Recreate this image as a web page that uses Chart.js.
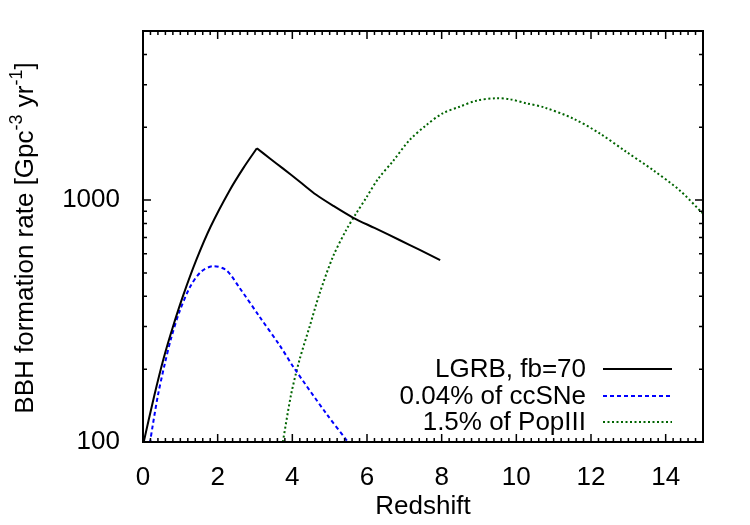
<!DOCTYPE html>
<html>
<head>
<meta charset="utf-8">
<title>BBH formation rate vs redshift</title>
<script src="https://cdn.jsdelivr.net/npm/chart.js@4.4.1/dist/chart.umd.min.js"></script>
<style>
  html, body { margin: 0; padding: 0; background: #fff; }
  #wrap { width: 750px; height: 525px; }
</style>
</head>
<body>
<div id="wrap"><canvas id="rateChart" width="750" height="525"></canvas></div>
<script>
// --- DATA ---
// redshift / rate pairs
const lgrbZ    = [0, 0.3, 0.55, 0.8, 1.07, 1.42, 1.81, 2.32, 2.7, 3.05, 3.4, 3.745, 4.2, 4.64, 5.1, 5.62, 6.2, 6.87, 7.4, 7.96];
const lgrbRate = [97, 155, 221, 299, 401, 562, 776, 1096, 1365, 1637, 1486, 1352, 1191, 1052, 946, 847, 767, 684, 624, 565];

const ccsneZ    = [0.1, 0.19, 0.26, 0.4, 0.576, 0.755, 0.98, 1.27, 1.55, 1.87, 2.23, 2.585, 3.12, 3.66, 4.05, 4.91, 5.49, 5.6];
const ccsneRate = [81, 100, 117, 156, 208, 269, 347, 440, 505, 533, 513, 434, 330, 251, 202, 131, 100, 95];

const popZ    = [3.7, 3.745, 3.97, 4.19, 4.46, 4.73, 5.085, 5.44, 5.71, 5.98, 6.3, 6.69, 7.14, 7.59, 8.03, 8.48, 8.93, 9.46, 9.82, 10.27, 10.75, 11.51, 12.23, 12.94, 13.66, 14.37, 14.95, 15];
const popRate = [92, 100, 158, 218, 299, 411, 582, 751, 881, 1023, 1225, 1445, 1771, 2042, 2285, 2432, 2576, 2637, 2612, 2512, 2415, 2178, 1888, 1585, 1331, 1099, 895, 880];

const seriesLabels = ['LGRB, fb=70', '0.04% of ccSNe', '1.5% of PopIII'];

// axis ticks
const xTicks      = [0, 2, 4, 6, 8, 10, 12, 14];
const xMinorStep  = 0.2;
const yTicks      = [100, 1000];
const yMinorTicks = [200, 300, 400, 500, 600, 700, 800, 900, 2000, 3000, 4000];

// --- STYLE ---
const FONT = '"Liberation Sans", Arial, Helvetica, sans-serif';
const FONT_SIZE = 26;
const styles = [
  { color: '#000000', dash: [] },
  { color: '#0000ff', dash: [4, 3] },
  { color: '#006400', dash: [2, 2.5] }
];

function toPoints(xs, ys) {
  return xs.map((x, i) => ({ x: x, y: ys[i] }));
}

// frame, inward ticks, legend and y title (gnuplot look)
const gnuplotFrame = {
  id: 'gnuplotFrame',
  afterDatasetsDraw(chart) {
    const { ctx, chartArea: a, scales } = chart;
    const xs = scales.x, ys = scales.y;
    ctx.save();

    // ticks
    ctx.strokeStyle = '#000';
    ctx.lineWidth = 1.5;
    ctx.beginPath();
    for (let v = 0; v <= xs.max + 1e-9; v += xMinorStep) {
      const val = Math.round(v * 10) / 10;
      const px = xs.getPixelForValue(val);
      const len = xTicks.includes(val) ? 8 : 4;
      ctx.moveTo(px, a.bottom); ctx.lineTo(px, a.bottom - len);
      ctx.moveTo(px, a.top); ctx.lineTo(px, a.top + len);
    }
    yTicks.concat(yMinorTicks).forEach(v => {
      const py = ys.getPixelForValue(v);
      const len = yTicks.includes(v) ? 8 : 4;
      ctx.moveTo(a.left, py); ctx.lineTo(a.left + len, py);
      ctx.moveTo(a.right, py); ctx.lineTo(a.right - len, py);
    });
    ctx.stroke();

    // frame
    ctx.lineWidth = 2;
    ctx.strokeRect(a.left, a.top, a.right - a.left, a.bottom - a.top);

    // legend
    ctx.font = FONT_SIZE + 'px ' + FONT;
    ctx.fillStyle = '#000';
    ctx.textAlign = 'right';
    ctx.textBaseline = 'middle';
    const rowOffsets = [73, 46, 20];
    seriesLabels.forEach((label, i) => {
      const y = a.bottom - rowOffsets[i];
      ctx.fillText(label, a.right - 117, y + 1);
      ctx.strokeStyle = styles[i].color;
      ctx.lineWidth = 2;
      ctx.setLineDash(styles[i].dash);
      ctx.beginPath();
      ctx.moveTo(a.right - 100, y);
      ctx.lineTo(a.right - 31, y);
      ctx.stroke();
      ctx.setLineDash([]);
    });

    // y axis title with superscripts
    const parts = [
      { t: 'BBH formation rate [Gpc', sup: false },
      { t: '-3', sup: true },
      { t: ' yr', sup: false },
      { t: '-1', sup: true },
      { t: ']', sup: false }
    ];
    const mainFont = FONT_SIZE + 'px ' + FONT, supFont = '18px ' + FONT;
    let total = 0;
    parts.forEach(p => {
      ctx.font = p.sup ? supFont : mainFont;
      p.w = ctx.measureText(p.t).width;
      total += p.w;
    });
    ctx.translate(33, 238);
    ctx.rotate(-Math.PI / 2);
    ctx.textAlign = 'left';
    ctx.textBaseline = 'alphabetic';
    let cx = -total / 2;
    parts.forEach(p => {
      ctx.font = p.sup ? supFont : mainFont;
      ctx.fillText(p.t, cx, p.sup ? -11 : 0);
      cx += p.w;
    });

    ctx.restore();
  }
};

function initChart() {
  const ctx = document.getElementById('rateChart').getContext('2d');
  const lgrb = toPoints(lgrbZ, lgrbRate);
  // LGRB has a sharp break at its maximum: draw both sides as smooth pieces
  const peak = lgrbRate.indexOf(Math.max(...lgrbRate));
  const pieces = [
    { data: lgrb.slice(0, peak + 1), s: 0 },
    { data: lgrb.slice(peak), s: 0 },
    { data: toPoints(ccsneZ, ccsneRate), s: 1 },
    { data: toPoints(popZ, popRate), s: 2 }
  ];
  new Chart(ctx, {
    type: 'line',
    data: {
      datasets: pieces.map(p => ({
        label: seriesLabels[p.s],
        data: p.data,
        borderColor: styles[p.s].color,
        borderDash: styles[p.s].dash,
        borderWidth: 2,
        pointRadius: 0,
        fill: false,
        tension: 0.3
      }))
    },
    options: {
      responsive: false,
      animation: false,
      layout: { padding: { top: 31, right: 47, left: 0, bottom: 0 } },
      plugins: {
        legend: { display: false },
        tooltip: { enabled: false }
      },
      scales: {
        x: {
          type: 'linear',
          min: 0,
          max: 15,
          grid: { display: false },
          border: { display: false },
          afterBuildTicks: s => { s.ticks = xTicks.map(v => ({ value: v })); },
          afterFit: s => { s.height = 83; },
          ticks: {
            autoSkip: false,
            maxRotation: 0,
            padding: 12,
            color: '#000',
            font: { family: FONT, size: FONT_SIZE },
            callback: v => String(v)
          },
          title: {
            display: true,
            text: 'Redshift',
            color: '#000',
            font: { family: FONT, size: FONT_SIZE },
            padding: { top: 0, bottom: 3 }
          }
        },
        y: {
          type: 'logarithmic',
          min: 100,
          max: 5000,
          grid: { display: false },
          border: { display: false },
          afterBuildTicks: s => { s.ticks = yTicks.map(v => ({ value: v })); },
          afterFit: s => { s.width = 143; },
          ticks: {
            autoSkip: false,
            padding: 15,
            color: '#000',
            font: { family: FONT, size: FONT_SIZE },
            callback: v => String(v)
          }
        }
      }
    },
    plugins: [gnuplotFrame]
  });
}

document.addEventListener('DOMContentLoaded', initChart);
</script>
</body>
</html>
